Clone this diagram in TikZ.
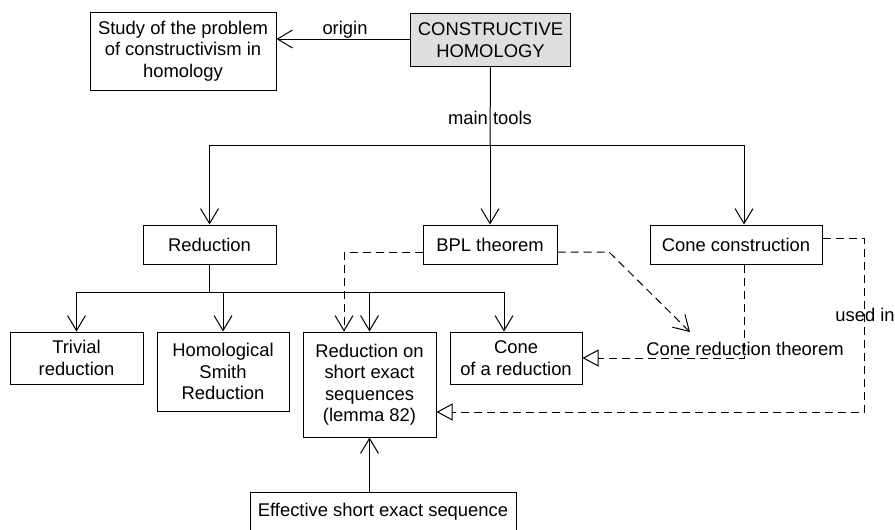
\documentclass[tikz,border=0pt]{standalone}
\usepackage{fontspec}
\setmainfont{Liberation Sans}
\usetikzlibrary{arrows.meta}
\begin{document}
\begin{tikzpicture}[x=1pt,y=-1pt,
  txt/.style={font=\fontsize{18.4}{21.5}\selectfont, align=center},
  box/.style={txt, draw, line width=1pt, inner sep=2pt},
  lbl/.style={txt, inner sep=0pt},
  ln/.style={line width=1pt},
  arr/.style={ln, -{Straight Barb[length=15pt,width=18pt]}},
  dsh/.style={ln, dash pattern=on 8pt off 5pt},
  tri/.style={ln, -{Triangle[open,length=16pt,width=17pt]}}
]
\useasboundingbox (0,0) rectangle (895,530);
\clip (0,0) rectangle (895,530);
\fill[white] (0,0) rectangle (895,530);

% nodes
\node[box, minimum width=186pt, minimum height=78pt] (study) at (183,51) {Study of the problem\\of constructivism in\\homology};
\node[box, fill=gray!25, line width=1.5pt, minimum width=160pt, minimum height=53pt] (ch) at (490.5,40) {CONSTRUCTIVE\\HOMOLOGY};
\node[box, minimum width=133pt, minimum height=39pt] (red) at (209.5,244.5) {Reduction};
\node[box, minimum width=134pt, minimum height=39pt] (bpl) at (490,244.5) {BPL theorem};
\node[box, minimum width=172pt, minimum height=39pt] (cc) at (736,244.5) {Cone construction};
\node[box, minimum width=133pt, minimum height=52pt] (triv) at (76.5,358) {Trivial\\reduction};
\node[box, minimum width=132pt, minimum height=79pt] (hsr) at (223,371.5) {Homological\\Smith\\Reduction};
\node[box, minimum width=133pt, minimum height=105pt] (rses) at (369.5,384.5) {Reduction on\\short exact\\sequences\\(lemma 82)};
\node[box, minimum width=132pt, minimum height=52pt] (cor) at (516,358) {Cone\\of a reduction};
\node[lbl] (crt) at (745,349) {Cone reduction theorem};
\node[box, minimum width=266pt, minimum height=39pt] (eses) at (383,511.5) {Effective short exact sequence};

% origin
\coordinate (oy) at (0,39);
\draw[arr] (ch.west |- oy) -- (study.east |- oy);
\node[lbl] (origin) at (345,30) {origin};

% main tools
\coordinate (mt) at (490,145);
\coordinate (mtr) at (744,145);
\draw[ln] (ch.south) -- (mt);
\node[lbl] (mtl) at (490,118) {main tools};
\draw[ln] (red.north |- mt) -- (mtr);
\draw[arr] (red.north |- mt) -- (red.north);
\draw[arr] (mt) -- (bpl.north);
\draw[arr] (mtr) -- (mtr |- cc.north);

% reduction children
\coordinate (rb) at (209.5,292);
\coordinate (rbr) at (504,292);
\draw[ln] (red.south) -- (rb);
\draw[ln] (triv.north |- rb) -- (rbr);
\draw[arr] (triv.north |- rb) -- (triv.north);
\draw[arr] (hsr.north |- rb) -- (hsr.north);
\draw[arr] (rses.north |- rb) -- (rses.north);
\draw[arr] (rbr) -- (rbr |- cor.north);

% dashed
\coordinate (d1) at (344,252);
\draw[dsh, arr] (bpl.west |- d1) -- (d1) -- (d1 |- rses.north);
\coordinate (d2) at (609,252);
\coordinate (d2t) at (690,332);
\draw[dsh, arr] (bpl.east |- d2) -- (d2) -- (d2t);
\coordinate (d3) at (744,358);
\draw[dsh, tri] (d3 |- cc.south) -- (d3) -- (cor.east |- d3);
\coordinate (d4) at (864,238);
\coordinate (d4b) at (864,412);
\draw[dsh, tri] (cc.east |- d4) -- (d4) -- (d4b) -- (rses.east |- d4b);
\node[lbl] (used) at (865,315) {used in};

% effective
\draw[arr] (eses.north -| rses.south) -- (rses.south);
\end{tikzpicture}
\end{document}
